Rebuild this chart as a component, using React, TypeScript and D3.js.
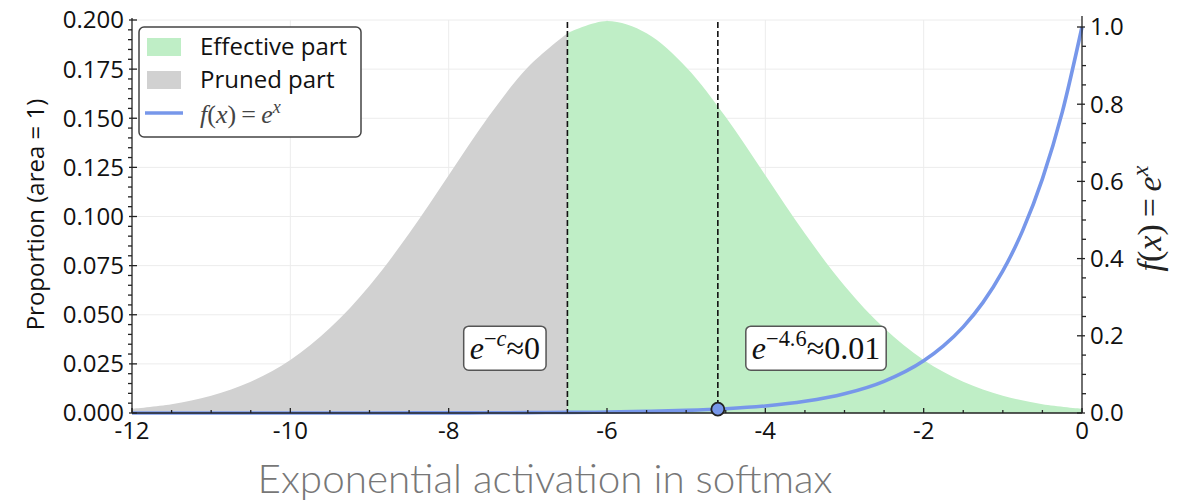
import React, { useEffect, useRef } from 'react';
import * as d3 from 'd3';

// Gaussian-like proportion curve (x step 0.5)
const gaussX = [-12, -11.5, -11, -10.5, -10, -9.5, -9, -8.5, -8, -7.5, -7, -6.5, -6, -5.5, -5, -4.5, -4, -3.5, -3, -2.5, -2, -1.5, -1, -0.5, 0];
const gaussY = [0.0022, 0.0045, 0.0088, 0.0159, 0.027, 0.0432, 0.0648, 0.0913, 0.121, 0.1506, 0.176, 0.1933, 0.1995, 0.1933, 0.176, 0.1506, 0.121, 0.0913, 0.0648, 0.0432, 0.027, 0.0159, 0.0088, 0.0045, 0.0022];

// f(x) = e^x curve values
const expX = [-12, -11, -10, -9, -8, -7.5, -7, -6.5, -6, -5.5, -5, -4.5, -4, -3.5, -3, -2.5, -2, -1.75, -1.5, -1.25, -1, -0.75, -0.5, -0.25, 0];
const expY = [0.000006, 0.000017, 0.000045, 0.000123, 0.000335, 0.000553, 0.000912, 0.0015, 0.00248, 0.00409, 0.00674, 0.0111, 0.0183, 0.0302, 0.0498, 0.0821, 0.1353, 0.1738, 0.2231, 0.2865, 0.3679, 0.4724, 0.6065, 0.7788, 1.0];

const cutoffX = -6.5;
const markerX = -4.6;
const markerY = 0.01;

const xTicks = [-12, -10, -8, -6, -4, -2, 0];
const leftTicks = [0, 0.025, 0.05, 0.075, 0.1, 0.125, 0.15, 0.175, 0.2];
const leftTickLabels = ['0.000', '0.025', '0.050', '0.075', '0.100', '0.125', '0.150', '0.175', '0.200'];
const rightTicks = [0, 0.2, 0.4, 0.6, 0.8, 1.0];
const rightTickLabels = ['0.0', '0.2', '0.4', '0.6', '0.8', '1.0'];

const legendLabels = ['Effective part', 'Pruned part'];
const annotations = [
  { x: -7.29, y: 0.033, sup: '−c', rest: '≈0' },
  { x: -3.36, y: 0.033, sup: '−4.6', rest: '≈0.01' },
];
const xLabel = 'Exponential activation in softmax';
const yLabel = 'Proportion (area = 1)';

const W = 1186;
const H = 501;
const PL = 132, PR = 1082, PT = 20, PB = 413;

const GREEN = '#bfeec6';
const GRAY = '#d1d1d1';
const BLUE = '#7797ea';
const SANS = "'Open Sans', 'Noto Sans', sans-serif";
const SERIF = "'Liberation Serif', 'DejaVu Serif', serif";

function mathE(g: any, x: number, y: number, size: number, sup: string, rest: string) {
  const t = g.append('text').attr('x', x).attr('y', y).attr('font-family', SERIF)
    .attr('font-size', size).attr('text-anchor', 'middle').attr('fill', '#111');
  t.append('tspan').attr('font-style', 'italic').text('e');
  if (sup === '−c') {
    t.append('tspan').attr('dy', -size * 0.4).attr('font-size', size * 0.7).text('−');
    t.append('tspan').attr('font-size', size * 0.7).attr('font-style', 'italic').text('c');
  } else {
    t.append('tspan').attr('dy', -size * 0.4).attr('font-size', size * 0.7).text(sup);
  }
  t.append('tspan').attr('dy', size * 0.4).text(rest);
  return t;
}

function fOfX(t: any, size: number, supSize: number, supDy: number) {
  t.append('tspan').attr('font-style', 'italic').text('f');
  t.append('tspan').text('(');
  t.append('tspan').attr('font-style', 'italic').text('x');
  t.append('tspan').text(')\u2009=\u2009');
  t.append('tspan').attr('font-style', 'italic').text('e');
  t.append('tspan').attr('font-style', 'italic').attr('font-size', supSize).attr('dy', supDy).text('x');
}

export default function App() {
  const ref = useRef<SVGSVGElement>(null);

  useEffect(() => {
    const svg = d3.select(ref.current);
    svg.selectAll('*').remove();

    const x = d3.scaleLinear().domain([-12, 0]).range([PL, PR]);
    const yL = d3.scaleLinear().domain([0, 0.2]).range([PB, PT]);
    const yR = d3.scaleLinear().domain([0, 1]).range([PB, 27]);

    // grid
    const grid = svg.append('g');
    xTicks.slice(1, -1).forEach(t => {
      grid.append('line').attr('x1', x(t)).attr('x2', x(t)).attr('y1', PT).attr('y2', PB)
        .attr('stroke', '#ececec').attr('stroke-width', 1);
    });
    leftTicks.slice(1).forEach(t => {
      grid.append('line').attr('x1', PL).attr('x2', PR).attr('y1', yL(t)).attr('y2', yL(t))
        .attr('stroke', '#ececec').attr('stroke-width', 1);
    });

    const pts = gaussX.map((v, i) => [v, gaussY[i]] as [number, number]);
    const area = d3.area<[number, number]>().x(d => x(d[0])).y0(yL(0)).y1(d => yL(d[1])).curve(d3.curveCatmullRom);
    svg.append('path').datum(pts.filter(d => d[0] <= cutoffX)).attr('d', area).attr('fill', GRAY);
    svg.append('path').datum(pts.filter(d => d[0] >= cutoffX)).attr('d', area).attr('fill', GREEN);

    // dashed lines
    svg.append('line').attr('x1', x(cutoffX)).attr('x2', x(cutoffX)).attr('y1', PT + 2).attr('y2', PB)
      .attr('stroke', '#111').attr('stroke-width', 1.6).attr('stroke-dasharray', '6,3');
    svg.append('line').attr('x1', x(markerX)).attr('x2', x(markerX)).attr('y1', PT + 2).attr('y2', yR(markerY))
      .attr('stroke', '#111').attr('stroke-width', 1.6).attr('stroke-dasharray', '6,3');

    // exp curve
    const epts = expX.map((v, i) => [v, expY[i]] as [number, number]);
    const line = d3.line<[number, number]>().x(d => x(d[0])).y(d => yR(d[1])).curve(d3.curveMonotoneX);
    svg.append('path').datum(epts).attr('d', line).attr('fill', 'none').attr('stroke', BLUE).attr('stroke-width', 3.6);

    // spines
    const ax = svg.append('g').attr('stroke', '#222').attr('stroke-width', 1.3);
    ax.append('line').attr('x1', PL).attr('x2', PL).attr('y1', PT - 2).attr('y2', PB);
    ax.append('line').attr('x1', PR).attr('x2', PR).attr('y1', PT - 4).attr('y2', PB);
    ax.append('line').attr('x1', PL).attr('x2', PR).attr('y1', PB).attr('y2', PB);

    // x ticks
    d3.range(-12, 0.001, 0.5).forEach(t => {
      const major = Math.abs(t % 2) < 1e-9;
      ax.append('line').attr('x1', x(t)).attr('x2', x(t)).attr('y1', PB).attr('y2', PB - (major ? 5 : 3));
    });
    // left ticks
    d3.range(0, 0.2001, 0.005).forEach((t, i) => {
      const major = i % 5 === 0;
      ax.append('line').attr('x1', PL - (major ? 3 : 4)).attr('x2', PL + (major ? 5 : 0)).attr('y1', yL(t)).attr('y2', yL(t));
    });
    // right ticks
    d3.range(0, 1.0001, 0.05).forEach((t, i) => {
      const major = i % 4 === 0;
      ax.append('line').attr('x1', PR - (major ? 5 : 0)).attr('x2', PR + (major ? 3 : 4)).attr('y1', yR(t)).attr('y2', yR(t));
    });

    // tick labels
    const lab = svg.append('g').attr('font-family', SANS).attr('font-size', 24).attr('fill', '#111');
    xTicks.forEach(t => {
      lab.append('text').attr('x', x(t)).attr('y', PB + 26).attr('text-anchor', 'middle').text(String(t));
    });
    leftTicks.forEach((t, i) => {
      lab.append('text').attr('x', PL - 8).attr('y', yL(t)).attr('dy', '0.35em').attr('text-anchor', 'end').text(leftTickLabels[i]);
    });
    rightTicks.forEach((t, i) => {
      lab.append('text').attr('x', PR + 8).attr('y', yR(t)).attr('dy', '0.35em').attr('text-anchor', 'start').text(rightTickLabels[i]);
    });

    // y labels
    svg.append('text').attr('transform', `translate(44, ${(PT + PB) / 2 - 2}) rotate(-90)`)
      .attr('text-anchor', 'middle').attr('font-family', SANS).attr('font-size', 24).attr('fill', '#111').text(yLabel);

    const ry = svg.append('text').attr('transform', `translate(1161, ${(PT + PB) / 2 + 2}) rotate(-90)`)
      .attr('text-anchor', 'middle').attr('font-family', SERIF).attr('font-size', 34).attr('fill', '#222');
    fOfX(ry, 34, 24, -13);

    // marker
    svg.append('circle').attr('cx', x(markerX)).attr('cy', yR(markerY)).attr('r', 6.5)
      .attr('fill', BLUE).attr('stroke', '#222').attr('stroke-width', 1.8);

    // annotations
    annotations.forEach(a => {
      const g = svg.append('g');
      const t = mathE(g, x(a.x), yL(a.y) + 11, 32, a.sup, a.rest);
      const bb = (t.node() as SVGTextElement).getBBox();
      g.insert('rect', 'text').attr('x', bb.x - 6).attr('y', yL(a.y) - 22).attr('width', bb.width + 12).attr('height', 44)
        .attr('rx', 5).attr('fill', 'white').attr('stroke', '#555').attr('stroke-width', 1.5);
    });

    // legend
    const lg = svg.append('g');
    lg.append('rect').attr('x', 139).attr('y', 27).attr('width', 222).attr('height', 110).attr('rx', 5)
      .attr('fill', 'white').attr('stroke', '#444').attr('stroke-width', 1.5);
    [GREEN, GRAY].forEach((c, i) => {
      lg.append('rect').attr('x', 147).attr('y', 38 + i * 33).attr('width', 34).attr('height', 18).attr('fill', c);
      lg.append('text').attr('x', 200).attr('y', 55 + i * 33).attr('font-family', SANS).attr('font-size', 24)
        .attr('fill', '#111').text(legendLabels[i]);
    });
    lg.append('line').attr('x1', 145).attr('x2', 183).attr('y1', 113).attr('y2', 113).attr('stroke', BLUE).attr('stroke-width', 3.6);
    const lt = lg.append('text').attr('x', 200).attr('y', 123).attr('font-family', SERIF).attr('font-size', 26).attr('fill', '#444');
    fOfX(lt, 26, 18, -10);

    // x label
    svg.append('text').attr('x', 545).attr('y', 493).attr('text-anchor', 'middle')
      .attr('font-family', "'Lato', 'Open Sans', sans-serif").attr('font-weight', 300).attr('font-size', 40)
      .attr('fill', '#777').attr('textLength', 575).attr('lengthAdjust', 'spacingAndGlyphs').text(xLabel);
  }, []);

  return (
    <svg ref={ref} width={W} height={H} style={{ position: 'absolute', left: 0, top: 0, background: 'white' }} />
  );
}
